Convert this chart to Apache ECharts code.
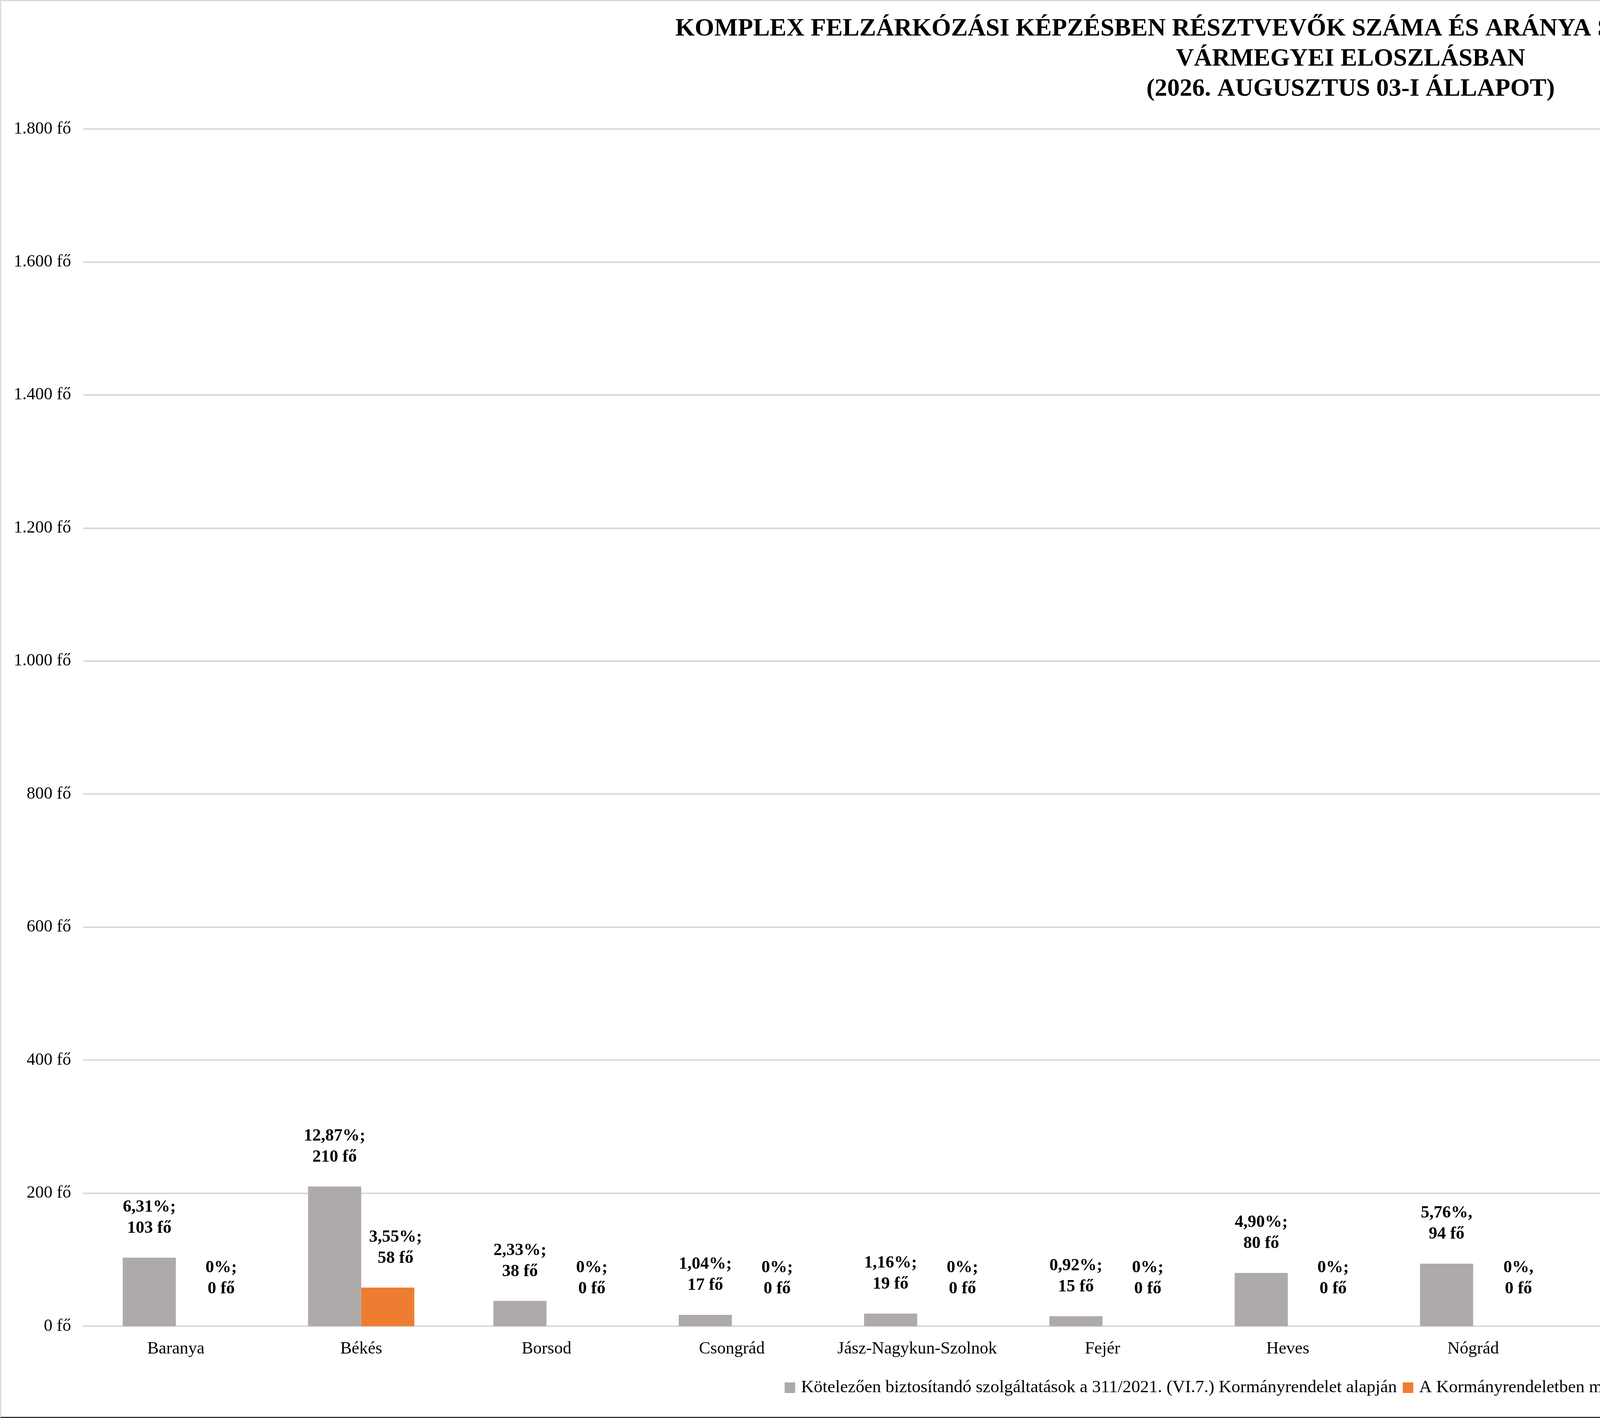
<!DOCTYPE html>
<html lang="hu">
<head>
    <meta charset="utf-8">
    <title>Komplex felzárkózási képzés</title>
    <script type="text/javascript" src="https://cdn.jsdelivr.net/npm/echarts@6/dist/echarts.min.js"></script>
    <style>
        body { margin: 0; background: #fff; }
        #wrap { position: relative; width: 6915px; height: 3629px; }
        #main { position: absolute; left: 0; top: 0; width: 6915px; height: 3629px; }
        #frame {
            position: absolute; left: 0; top: 0; width: 6915px; height: 3629px;
            box-sizing: border-box; pointer-events: none;
            border-left: 3px solid #d9d9d9; border-top: 3px solid #d9d9d9;
            border-right: 4px solid #333; border-bottom: 3px solid #333;
        }
    </style>
</head>
<body>
<div id="wrap">
    <div id="main"></div>
    <div id="frame"></div>
</div>

<script type="text/javascript">
    // megyék
    var categories = ['Baranya', 'Békés', 'Borsod', 'Csongrád', 'Jász-Nagykun-Szolnok', 'Fejér', 'Heves',
        'Nógrád', 'Pest', 'Somogy', 'Szabolcs-Szatmár-Bereg', 'Tolna', 'Zala', 'Összesen'];

    // Kötelezően biztosítandó szolgáltatások
    var kotelezo = [103, 210, 38, 17, 19, 15, 80, 94, 56, 136, 717, 110, 37, 1632];
    var kotelezoPct = ['6,31%;', '12,87%;', '2,33%;', '1,04%;', '1,16%;', '0,92%;', '4,90%;',
        '5,76%,', '3,43%;', '8,33%;', '43,93%;', '6,74%;', '2,27%;', '100%,;'];

    // Kormányrendeleten kívül vállalt szolgáltatások
    var vallalt = [0, 58, 0, 0, 0, 0, 0, 0, 0, 0, 104, 0, 0, 162];
    var vallaltPct = ['0%;', '3,55%;', '0%;', '0%;', '0%;', '0%;', '0%;',
        '0%,', '0%;', '0%;', '6,37%;', '0%;', '0%;', '9,93%;'];

    var yTicks = [0, 200, 400, 600, 800, 1000, 1200, 1400, 1600, 1800];

    var legendNames = ['Kötelezően biztosítandó szolgáltatások a 311/2021. (VI.7.) Kormányrendelet alapján',
        'A Kormányrendeletben meghatározottakon kívül vállalt szolgáltatások'];

    var FONT = '"Liberation Serif", "Times New Roman", serif';

    function fmtFo(v) {
        return String(v).replace(/\B(?=(\d{3})+(?!\d))/g, '.') + ' fő';
    }

    // adatpontok: a nulla értékű címkéket kicsit feljebb és jobbra tolja (mint az eredetin)
    function buildData(values) {
        var out = [];
        for (var i = 0; i < values.length; i++) {
            var item = { value: values[i] };
            if (values[i] === 0) {
                item.label = { offset: [48, -20] };
            }
            out.push(item);
        }
        return out;
    }

    var myChart = echarts.init(document.getElementById('main'));

    var labelStyle = {
        show: true,
        position: 'top',
        distance: 48,
        fontFamily: FONT,
        fontSize: 44,
        fontWeight: 'bold',
        lineHeight: 54,
        color: '#000',
        align: 'center'
    };

    var option = {
        backgroundColor: '#fff',
        animation: false,
        title: {
            text: 'KOMPLEX FELZÁRKÓZÁSI KÉPZÉSBEN RÉSZTVEVŐK SZÁMA ÉS ARÁNYA SZOLGÁLTATÁSI FAJTÁK SZERINT\nVÁRMEGYEI ELOSZLÁSBAN\n(2026. AUGUSZTUS 03-I ÁLLAPOT)',
            left: 'center',
            top: 36,
            padding: 0,
            textStyle: {
                fontFamily: FONT,
                fontSize: 64,
                fontWeight: 'bold',
                lineHeight: 77,
                color: '#000'
            }
        },
        legend: {
            data: legendNames,
            bottom: 50,
            left: 'center',
            itemWidth: 27,
            itemHeight: 27,
            itemGap: 15,
            icon: 'rect',
            textStyle: {
                fontFamily: FONT,
                fontSize: 45,
                color: '#000',
                padding: [0, 0, 0, 10]
            }
        },
        grid: {
            left: 213,
            right: 60,
            top: 330,
            bottom: 235,
            containLabel: false
        },
        xAxis: {
            type: 'category',
            data: categories,
            axisTick: { show: false },
            axisLine: { lineStyle: { color: '#d9d9d9', width: 4 } },
            axisLabel: {
                fontFamily: FONT,
                fontSize: 44,
                color: '#000',
                margin: 36,
                interval: 0
            }
        },
        yAxis: {
            type: 'value',
            min: yTicks[0],
            max: yTicks[yTicks.length - 1],
            interval: 200,
            axisLine: { show: false },
            axisTick: { show: false },
            splitLine: { lineStyle: { color: '#d9d9d9', width: 4 } },
            axisLabel: {
                fontFamily: FONT,
                fontSize: 44,
                color: '#000',
                margin: 31,
                formatter: fmtFo
            }
        },
        series: [
            {
                name: legendNames[0],
                type: 'bar',
                barWidth: 136,
                barGap: '0%',
                itemStyle: { color: '#aeaaaa' },
                label: Object.assign({}, labelStyle, {
                    formatter: function (p) {
                        return kotelezoPct[p.dataIndex] + '\n' + p.value + ' fő';
                    }
                }),
                data: buildData(kotelezo)
            },
            {
                name: legendNames[1],
                type: 'bar',
                barWidth: 136,
                barGap: '0%',
                itemStyle: { color: '#ed7d31' },
                label: Object.assign({}, labelStyle, {
                    offset: [20, 0],
                    formatter: function (p) {
                        return vallaltPct[p.dataIndex] + '\n' + p.value + ' fő';
                    }
                }),
                data: buildData(vallalt)
            }
        ]
    };

    myChart.setOption(option);
</script>
</body>
</html>
